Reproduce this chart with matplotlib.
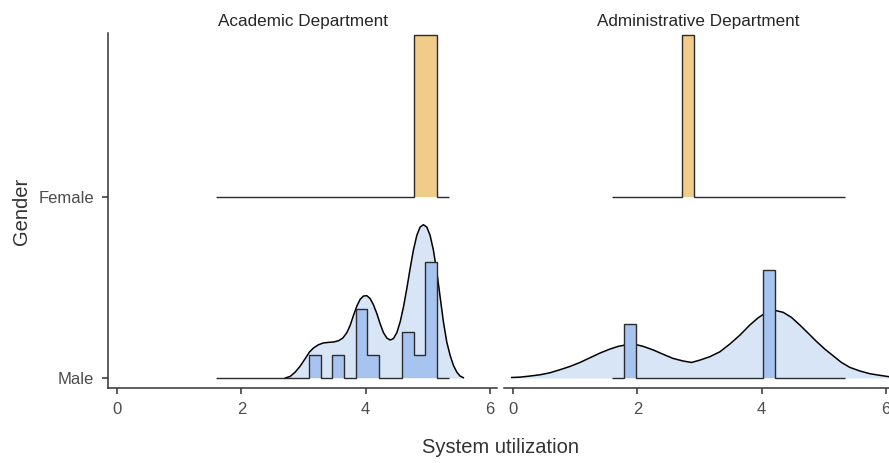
import numpy as np
import matplotlib.pyplot as plt

plt.rcParams['font.family'] = ['Liberation Sans', 'DejaVu Sans']

# histogram bins shared by every ridge
bin_lo, bin_hi, n_bins = 1.6, 5.333, 20
edges = np.linspace(bin_lo, bin_hi, n_bins + 1)

# counts per bin
acad_male_counts = [0, 0, 0, 0, 0, 0, 0, 0, 1, 0, 1, 0, 3, 1, 0, 0, 2, 1, 5, 0]
acad_female_counts = [0, 0, 0, 0, 0, 0, 0, 0, 0, 0, 0, 0, 0, 0, 0, 0, 0, 1, 1, 0]
admin_male_counts = [0, 1, 0, 0, 0, 0, 0, 0, 0, 0, 0, 0, 0, 2, 0, 0, 0, 0, 0, 0]
admin_female_counts = [0, 0, 0, 0, 0, 0, 1, 0, 0, 0, 0, 0, 0, 0, 0, 0, 0, 0, 0, 0]

# density ridges for male staff (height in row units)
acad_male_dens_x = [2.706, 2.786, 2.867, 2.947, 3.027, 3.097, 3.161, 3.241, 3.322, 3.402,
                    3.482, 3.563, 3.633, 3.698, 3.751, 3.804, 3.859, 3.912, 3.965, 4.019,
                    4.072, 4.125, 4.180, 4.233, 4.286, 4.341, 4.394, 4.447, 4.502, 4.555,
                    4.608, 4.662, 4.715, 4.768, 4.823, 4.876, 4.929, 4.984, 5.037, 5.090,
                    5.145, 5.198, 5.251, 5.305, 5.359, 5.412, 5.466, 5.519, 5.572]
acad_male_dens_h = [0.000, 0.009, 0.033, 0.066, 0.107, 0.144, 0.166, 0.184, 0.194, 0.197,
                    0.199, 0.206, 0.221, 0.251, 0.291, 0.346, 0.398, 0.435, 0.453, 0.455,
                    0.439, 0.405, 0.356, 0.300, 0.251, 0.221, 0.210, 0.218, 0.251, 0.310,
                    0.392, 0.494, 0.604, 0.706, 0.788, 0.834, 0.847, 0.834, 0.788, 0.706,
                    0.586, 0.448, 0.310, 0.199, 0.125, 0.070, 0.033, 0.011, 0.002]
admin_male_dens_x = [-0.021, 0.113, 0.273, 0.434, 0.595, 0.756, 0.916, 1.077, 1.238, 1.399,
                     1.559, 1.693, 1.827, 1.961, 2.095, 2.256, 2.417, 2.578, 2.738, 2.872,
                     3.006, 3.167, 3.328, 3.489, 3.650, 3.810, 3.944, 4.078, 4.212, 4.346,
                     4.480, 4.614, 4.748, 4.882, 5.016, 5.150, 5.284, 5.418, 5.579, 5.740,
                     5.900, 6.056]
admin_male_dens_h = [0.003, 0.005, 0.011, 0.018, 0.029, 0.046, 0.064, 0.086, 0.112, 0.138,
                     0.160, 0.175, 0.184, 0.186, 0.175, 0.155, 0.131, 0.108, 0.094, 0.086,
                     0.099, 0.118, 0.145, 0.188, 0.237, 0.293, 0.333, 0.363, 0.374, 0.363,
                     0.335, 0.293, 0.248, 0.202, 0.160, 0.123, 0.086, 0.059, 0.039, 0.024,
                     0.015, 0.007]

genders = ['Male', 'Female']
panels = ['Academic Department', 'Administrative Department']
peak = 0.895  # tallest ridge height in each panel

male_col = '#A7C4F0'
female_col = '#F0CB8A'
dens_col = '#D8E5F6'
text_col = '#4D4D4D'

fig = plt.figure(figsize=(8.89, 4.63), dpi=100)
W, H = 889, 463
ax1 = fig.add_axes([108 / W, 75 / H, 389 / W, 355 / H])
ax2 = fig.add_axes([504 / W, 75 / H, 389 / W, 355 / H])

groups = [
    (ax1, acad_male_counts, acad_female_counts, acad_male_dens_x, acad_male_dens_h),
    (ax2, admin_male_counts, admin_female_counts, admin_male_dens_x, admin_male_dens_h),
]
width = edges[1] - edges[0]

for ax, m_counts, f_counts, dx, dh in groups:
    m = np.array(m_counts, float)
    f = np.array(f_counts, float)
    m_dens = m / (m.sum() * width)
    f_dens = f / (f.sum() * width)
    k = peak / max(m_dens.max(), f_dens.max())

    # male ridge: density then histogram on top
    ax.fill_between(dx, 1, 1 + np.array(dh), color=dens_col, lw=0, zorder=1)
    ax.plot(dx, 1 + np.array(dh), color='black', lw=1.1, zorder=2)
    ax.stairs(1 + m_dens * k, edges, baseline=1, fill=True, facecolor=male_col,
              edgecolor='none', zorder=3)
    ax.stairs(1 + m_dens * k, edges, baseline=1, color='#2b2b2b', lw=1.0, zorder=4)

    # female ridge
    ax.stairs(2 + f_dens * k, edges, baseline=2, fill=True, facecolor=female_col,
              edgecolor='none', zorder=3)
    ax.stairs(2 + f_dens * k, edges, baseline=2, color='#2b2b2b', lw=1.0, zorder=4)

    ax.set_xlim(-0.145, 6.113)
    ax.set_ylim(0.945, 2.906)
    ax.set_xticks([0, 2, 4, 6])
    ax.tick_params(axis='x', length=4, width=1.1, pad=6, labelsize=12,
                   labelcolor=text_col, color='#333333')
    for s in ['top', 'right']:
        ax.spines[s].set_visible(False)
    ax.spines['bottom'].set_linewidth(1.1)
    ax.spines['bottom'].set_color('#333333')
    ax.set_facecolor('none')

ax1.set_yticks([1, 2])
ax1.set_yticklabels(genders)
ax1.tick_params(axis='y', length=4, width=1.1, pad=6, labelsize=12,
                labelcolor=text_col, color='#333333')
ax1.spines['left'].set_linewidth(1.1)
ax1.spines['left'].set_color('#333333')
ax2.spines['left'].set_visible(False)
ax2.set_yticks([])

fig.text(302.5 / W, 1 - 26 / H, panels[0], ha='center', va='baseline',
         fontsize=12.3, color='#262626')
fig.text(698.5 / W, 1 - 26 / H, panels[1], ha='center', va='baseline',
         fontsize=12.3, color='#262626')
fig.text(501 / W, 1 - 453 / H, 'System utilization', ha='center', va='baseline',
         fontsize=14.5, color='#333333')
fig.text(21 / W, 1 - 211 / H, 'Gender', ha='center', va='center', rotation=90,
         fontsize=14.5, color='#333333')

fig.savefig('out.png', dpi=100)
